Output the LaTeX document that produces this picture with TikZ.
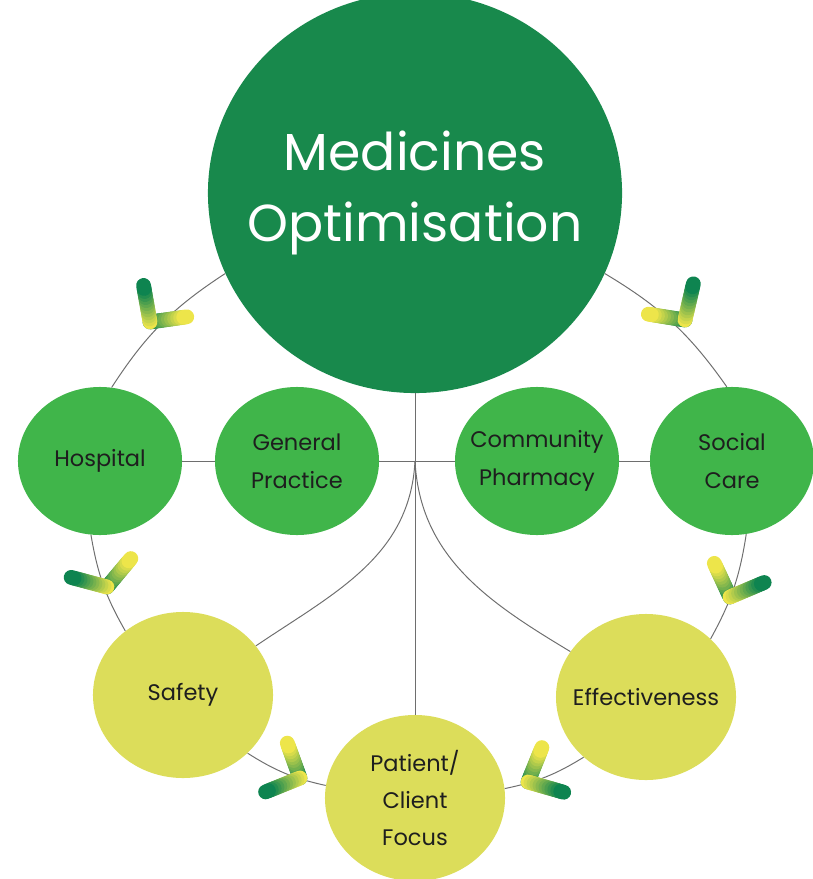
\documentclass[tikz,border=0pt]{standalone}
\usepackage{fontspec}
\setmainfont{Poppins}
\usetikzlibrary{shapes.geometric}

\definecolor{mogreen}{HTML}{18894C}
\definecolor{sitegreen}{HTML}{40B54A}
\definecolor{focusyellow}{HTML}{DCDD5A}
\definecolor{chevgreen}{HTML}{0E8450}
\definecolor{chevyellow}{HTML}{EDE54A}
\definecolor{linkgray}{HTML}{6E6E6E}
\definecolor{labeltext}{HTML}{1E1E1E}

\tikzset{
  chevstroke/.style={line width=10.5pt, line cap=round},
  % #1 = direction of the arm with the green tip, #2 = arm with the yellow tip
  pics/chevron/.style 2 args={code={
    \foreach \i in {0,...,11}{
      \pgfmathsetmacro\ra{\i*2.2}
      \pgfmathsetmacro\rb{\ra+2.2}
      \pgfmathtruncatemacro\mix{\i*100/11}
      \draw[chevstroke, draw=chevyellow!\mix!chevgreen] (#2:\ra pt) -- (#2:\rb pt);
    }
    \foreach \i in {0,...,11}{
      \pgfmathsetmacro\ra{\i*2.2}
      \pgfmathsetmacro\rb{\ra+2.2}
      \pgfmathtruncatemacro\mix{\i*100/11}
      \draw[chevstroke, draw=chevgreen!\mix!chevyellow] (#1:\ra pt) -- (#1:\rb pt);
    }
  }}
}

\begin{document}
\begin{tikzpicture}[x=0.025cm, y=-0.025cm,
    hub/.style={ellipse, fill=mogreen, inner xsep=-2cm, inner ysep=0pt, minimum width=10.35cm, minimum height=10cm,
      text=white, align=center, font=\fontsize{37}{50}\selectfont},
    site/.style={ellipse, fill=sitegreen, inner xsep=-1cm, inner ysep=0pt, minimum width=4.1cm, minimum height=3.7cm,
      text=labeltext, align=center, font=\fontsize{16}{27}\selectfont},
    aim/.style={ellipse, fill=focusyellow, inner xsep=-1cm, inner ysep=0pt, minimum width=4.5cm, minimum height=4.15cm,
      text=labeltext, align=center, font=\fontsize{16}{26}\selectfont},
    link/.style={draw=linkgray, line width=0.7pt}
  ]
  \useasboundingbox (0,0) rectangle (813,879);

  % Circles
  \node[hub] (mo) at (415,193) {Medicines\\Optimisation};
  \node[site] (hosp) at (100,461) {Hospital};
  \node[site] (gp) at (297,461) {General\\Practice};
  \node[site] (cp) at (537,461) {Community\\Pharmacy};
  \node[site] (soc) at (732,461) {Social\\Care};
  \node[aim] (saf) at (183,695) {Safety};
  \node[aim] (pcf) at (415,798) {Patient/\\Client\\Focus};
  \node[aim] (eff) at (646,697) {Effectiveness};
  \coordinate (junc) at (415,461);

  % Inner links
  \draw[link] (mo.south) -- (pcf.north);
  \draw[link] (hosp.east) -- (gp.west);
  \draw[link] (gp.east) -- (cp.west);
  \draw[link] (cp.east) -- (soc.west);
  \draw[link] (junc) to[out=-93, in=34] (saf);
  \draw[link] (junc) to[out=-87, in=149] (eff);

  % Outer ring
  \draw[link] (mo.203) to[bend right=12] (hosp.81);
  \draw[link] (hosp.263) to[bend right=10] (saf.132);
  \draw[link] (saf.318) to[bend right=10] (pcf.172);
  \draw[link] (pcf.6) to[bend right=10] (eff.224);
  \draw[link] (eff.42) to[bend right=10] (soc.281);
  \draw[link] (soc.94) to[bend right=12] (mo.337);

  % Chevrons
  \pic at (150,322) {chevron={100}{8}};
  \pic at (685,320) {chevron={77}{171}};
  \pic at (107,587) {chevron={165}{50}};
  \pic at (730,597) {chevron={23}{115}};
  \pic at (300,778) {chevron={202}{110}};
  \pic at (528,782) {chevron={344}{68}};
\end{tikzpicture}
\end{document}
